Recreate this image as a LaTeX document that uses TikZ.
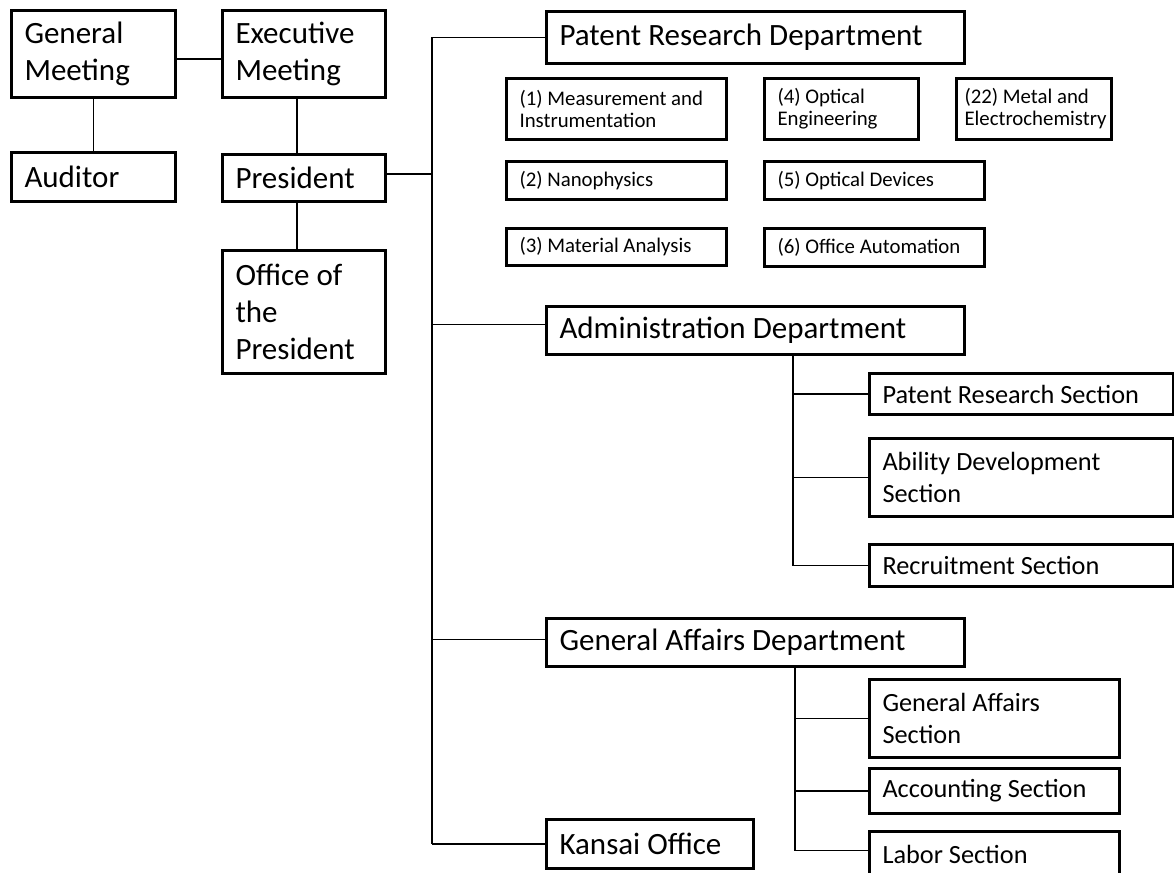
\documentclass[tikz,border=0pt]{standalone}
\usepackage{fontspec}
\setmainfont{Carlito}
\begin{document}
\begin{tikzpicture}[x=1pt,y=-1pt,
  box/.style={draw, line width=3pt, anchor=north west, inner xsep=13pt, inner ysep=0pt, align=flush left},
  bigtxt/.style={font=\fontsize{31}{37}\selectfont},
  sectxt/.style={font=\fontsize{26.3}{32}\selectfont},
  smalltxt/.style={font=\fontsize{20.8}{22}\selectfont},
  link/.style={line width=1.5pt}]
\useasboundingbox (0,0) rectangle (1174,872);

% board and executive
\node[box,bigtxt,minimum width=164,minimum height=87,text width=138] (gm) at (10,9) {General\\Meeting};
\node[box,bigtxt,minimum width=163,minimum height=87,text width=137] (em) at (221,9) {Executive\\Meeting};
\node[box,bigtxt,minimum width=164,minimum height=49,text width=138] (au) at (10,151) {Auditor};
\node[box,bigtxt,minimum width=163,minimum height=47,text width=137] (pr) at (221,153) {President};
\node[box,bigtxt,minimum width=163,minimum height=123,text width=137] (op) at (221,249) {Office of\\the\\President};

% departments
\node[box,bigtxt,minimum width=418,minimum height=52,text width=392] (prd) at (545,10) {Patent Research Department};
\node[box,bigtxt,minimum width=418,minimum height=48,text width=392] (ad) at (545,305) {Administration Department};
\node[box,bigtxt,minimum width=418,minimum height=48,text width=392] (gad) at (545,617) {General Affairs Department};
\node[box,bigtxt,minimum width=207,minimum height=49,text width=181] (ko) at (545,818) {Kansai Office};

% research fields
\node[box,smalltxt,minimum width=220,minimum height=61,text width=194] (f1) at (505,77) {(1) Measurement and\\Instrumentation};
\node[box,smalltxt,minimum width=154,minimum height=61,text width=128] (f4) at (763,77) {(4) Optical\\Engineering};
\node[box,smalltxt,inner xsep=8pt,minimum width=155,minimum height=61,text width=139] (f22) at (955,77) {(22) Metal and\\Electrochemistry};
\node[box,smalltxt,minimum width=220,minimum height=38,text width=194] (f2) at (505,160) {(2) Nanophysics};
\node[box,smalltxt,minimum width=220,minimum height=38,text width=194] (f5) at (763,160) {(5) Optical Devices};
\node[box,smalltxt,minimum width=220,minimum height=37,text width=194] (f3) at (505,227) {(3) Material Analysis};
\node[box,smalltxt,minimum width=220,minimum height=38,text width=194] (f6) at (763,227) {(6) Office Automation};

% sections
\node[box,sectxt,minimum width=304,minimum height=41,text width=278] (prs) at (868,372) {Patent Research Section};
\node[box,sectxt,minimum width=304,minimum height=78,text width=278] (ads) at (868,437) {Ability Development\\Section};
\node[box,sectxt,minimum width=304,minimum height=42,text width=278] (rs) at (868,543) {Recruitment Section};
\node[box,sectxt,minimum width=250,minimum height=78,text width=224] (gas) at (868,678) {General Affairs\\Section};
\node[box,sectxt,minimum width=250,minimum height=45,text width=224] (acs) at (868,767) {Accounting Section};
\node[box,sectxt,minimum width=250,minimum height=46,text width=224] (ls) at (868,830) {Labor Section};

% spine positions and branch points
\coordinate (tk) at (432,0);
\coordinate (ak) at (793,0);
\coordinate (gk) at (795,0);
\coordinate (ex) at (297,0);
\coordinate (gme) at ([yshift=-5pt]gm.east);
\coordinate (pre) at ([yshift=4pt]pr.east);
\coordinate (adw) at ([yshift=6pt]ad.west);
\coordinate (gadw) at ([yshift=3pt]gad.west);
\coordinate (lsw) at ([yshift=4pt]ls.west);

% connectors
\draw[link] (gme) -- (em.west |- gme);
\draw[link] (gm.south) -- (au.north);
\draw[link] (ex |- em.south) -- (ex |- pr.north);
\draw[link] (ex |- pr.south) -- (ex |- op.north);
\draw[link] (pre) -- (tk |- pre);
\draw[link] (tk |- prd.west) -- (tk |- ko.west);
\draw[link] (prd.west) -- (tk |- prd.west);
\draw[link] (adw) -- (tk |- adw);
\draw[link] (gadw) -- (tk |- gadw);
\draw[link] (ko.west) -- (tk |- ko.west);
\draw[link] (ak |- ad.south) -- (ak |- rs.west);
\foreach \n in {prs,ads,rs} \draw[link] (\n.west) -- (ak |- \n.west);
\draw[link] (gk |- gad.south) -- (gk |- lsw);
\draw[link] (gas.west) -- (gk |- gas.west);
\draw[link] (acs.west) -- (gk |- acs.west);
\draw[link] (lsw) -- (gk |- lsw);
\end{tikzpicture}
\end{document}
